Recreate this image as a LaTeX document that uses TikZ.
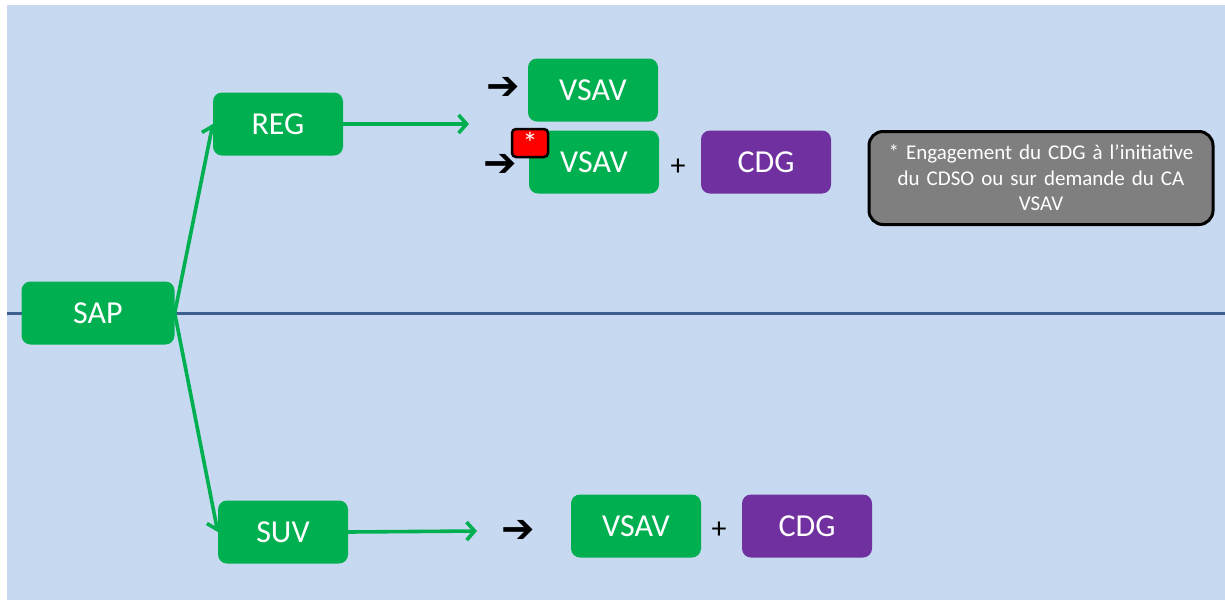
\documentclass[tikz,border=0pt]{standalone}
\usepackage{fontspec}
\setmainfont{Carlito}
\newfontfamily\symfont{DejaVu Sans Bold}
\usetikzlibrary{arrows.meta}
\definecolor{bgblue}{HTML}{C6D9F0}
\definecolor{boxgreen}{HTML}{00B050}
\definecolor{boxpurple}{HTML}{7030A0}
\definecolor{linedark}{HTML}{3E5F8E}
\definecolor{notegray}{HTML}{7F7F7F}
\tikzset{
  gbox/.style={rectangle, rounded corners=9pt, fill=boxgreen, text=white, minimum width=130pt, minimum height=63pt, inner sep=0pt, font=\fontsize{32}{36}\selectfont},
  pbox/.style={gbox, fill=boxpurple},
  garrow/.style={draw=boxgreen, line width=3.6pt, -{Straight Barb[length=8pt,width=18pt,line width=3.6pt]}},
  blackarrow/.style={inner sep=0pt, font=\symfont\fontsize{40}{42}\selectfont},
  plus/.style={inner sep=0pt, font=\fontsize{30}{32}\selectfont},
}
\begin{document}
\begin{tikzpicture}[x=1pt,y=-1pt]
\useasboundingbox (0,0) rectangle (1225,603);
\fill[bgblue] (7,5) rectangle (1225,600);
\draw[linedark, line width=3pt] (7,313) -- (1225,313);

\node[gbox, minimum width=153pt] (SAP) at (98,313) {SAP};
\node[gbox] (REG) at (278,124) {REG};
\node[gbox] (SUV) at (283,532) {SUV};
\node[gbox] (V1) at (593,90) {VSAV};
\node[gbox] (V2) at (594,162) {VSAV};
\node[pbox] (C1) at (766,162) {CDG};
\node[gbox] (V3) at (636,526) {VSAV};
\node[pbox] (C2) at (807,526) {CDG};

\node[rectangle, rounded corners=4pt, fill=red, draw=black, line width=2.5pt, minimum width=36pt, minimum height=28pt, inner sep=0pt, text=white, font=\fontsize{30}{32}\selectfont] (star) at (530,143) {\raisebox{-3pt}{*}};

\node[rectangle, rounded corners=14pt, fill=notegray, draw=black, line width=3pt, minimum width=344pt, minimum height=93pt, text width=330pt, align=center, text=white, font=\fontsize{21}{25.5}\selectfont] (note) at (1041,178) {* Engagement du CDG à l’initiative\\du CDSO ou sur demande du CA\\VSAV};

\coordinate (regend) at (469,124);
\coordinate (suvend) at (477,531);
\draw[garrow] (SAP.east) -- (REG.west);
\draw[garrow] (SAP.east) -- (SUV.west);
\draw[garrow] (REG.east) -- (regend);
\draw[garrow] (SUV.east) -- (suvend);

\node[blackarrow] (a1) at (503,88) {➔};
\node[blackarrow] (a2) at (500,165) {➔};
\node[blackarrow] (a3) at (518,531) {➔};
\node[plus] (p1) at (678,167) {+};
\node[plus] (p2) at (719,530) {+};
\end{tikzpicture}
\end{document}
